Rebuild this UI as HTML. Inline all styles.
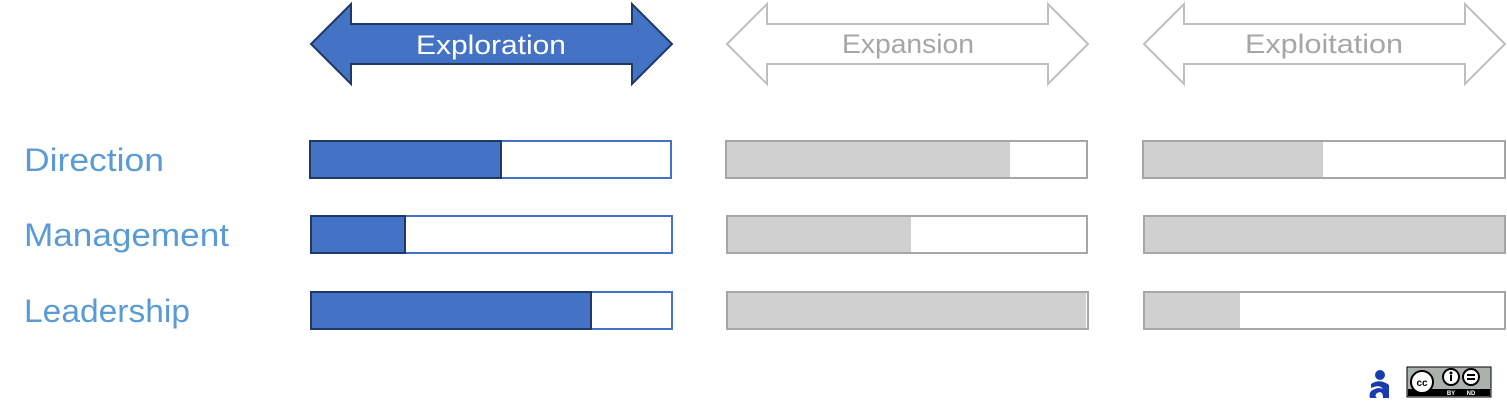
<!DOCTYPE html>
<html><head><style>
body{margin:0;width:1507px;height:414px;background:#fff;overflow:hidden;font-family:"Liberation Sans",sans-serif}
</style></head><body>
<svg width="1507" height="414" xmlns="http://www.w3.org/2000/svg" style="position:absolute;left:0;top:0">
<g font-family="Liberation Sans, sans-serif">
<polygon points="311,44 351,4 351,24 632,24 632,4 672,44 632,84 632,64 351,64 351,84" fill="#4472c4" stroke="#1f3864" stroke-width="2"/>
<text x="416" y="54" font-size="27" fill="#fff" textLength="150" lengthAdjust="spacingAndGlyphs">Exploration</text>
<polygon points="727,44 767,4 767,24 1048,24 1048,4 1088,44 1048,84 1048,64 767,64 767,84" fill="#fff" stroke="#bfbfbf" stroke-width="2"/>
<text x="842" y="53" font-size="27" fill="#a6a6a6" textLength="132" lengthAdjust="spacingAndGlyphs">Expansion</text>
<polygon points="1144,44 1184,4 1184,24 1465,24 1465,4 1505,44 1465,84 1465,64 1184,64 1184,84" fill="#fff" stroke="#bfbfbf" stroke-width="2"/>
<text x="1245" y="53" font-size="27" fill="#a6a6a6" textLength="158" lengthAdjust="spacingAndGlyphs">Exploitation</text>

<g font-size="32" fill="#5b9bd5">
<text x="24" y="171" textLength="140" lengthAdjust="spacingAndGlyphs">Direction</text>
<text x="24" y="246" textLength="205" lengthAdjust="spacingAndGlyphs">Management</text>
<text x="24" y="322" textLength="166" lengthAdjust="spacingAndGlyphs">Leadership</text>
</g>

<rect x="310" y="141" width="361" height="37" fill="#fff" stroke="#4472c4" stroke-width="2"/>
<rect x="310" y="141" width="191" height="37" fill="#4472c4" stroke="#1f3864" stroke-width="2"/>
<rect x="311" y="216" width="361" height="37" fill="#fff" stroke="#4472c4" stroke-width="2"/>
<rect x="311" y="216" width="94" height="37" fill="#4472c4" stroke="#1f3864" stroke-width="2"/>
<rect x="311" y="292" width="361" height="37" fill="#fff" stroke="#4472c4" stroke-width="2"/>
<rect x="311" y="292" width="280" height="37" fill="#4472c4" stroke="#1f3864" stroke-width="2"/>

<rect x="726" y="141" width="361" height="37" fill="#fff" stroke="#a6a6a6" stroke-width="2"/>
<rect x="727" y="142" width="283" height="35" fill="#d0d0d0"/>
<rect x="727" y="216" width="360" height="37" fill="#fff" stroke="#a6a6a6" stroke-width="2"/>
<rect x="728" y="217" width="183" height="35" fill="#d0d0d0"/>
<rect x="727" y="292" width="361" height="37" fill="#fff" stroke="#a6a6a6" stroke-width="2"/>
<rect x="728" y="293" width="358" height="35" fill="#d0d0d0"/>

<rect x="1143" y="141" width="362" height="37" fill="#fff" stroke="#a6a6a6" stroke-width="2"/>
<rect x="1144" y="142" width="179" height="35" fill="#d0d0d0"/>
<rect x="1144" y="216" width="361" height="37" fill="#d0d0d0" stroke="#a6a6a6" stroke-width="2"/>
<rect x="1144" y="292" width="361" height="37" fill="#fff" stroke="#a6a6a6" stroke-width="2"/>
<rect x="1145" y="293" width="95" height="35" fill="#d0d0d0"/>

<circle cx="1380" cy="375" r="5" fill="#1a3bb0"/>
<path d="M1371,384 Q1380,378 1389,385 L1389,398 L1383,398 Q1383,390 1377,393 Q1374,396 1377,398 L1370,398 Q1368,391 1375,389 Q1379,387 1383,389 Q1380,384 1371,388 Z" fill="#1a3bb0"/>
<rect x="1407" y="367" width="84" height="30" fill="#aab2ab" stroke="#000" stroke-width="1"/>
<rect x="1408" y="389" width="82" height="7" fill="#000"/>
<circle cx="1422" cy="382" r="11" fill="#fff" stroke="#000" stroke-width="2"/>
<text x="1422" y="386" font-size="10" font-weight="bold" text-anchor="middle">cc</text>
<circle cx="1451" cy="377" r="8" fill="#fff" stroke="#000" stroke-width="2"/>
<circle cx="1451" cy="373" r="1.5" fill="#000"/>
<rect x="1450" y="375" width="2" height="6" fill="#000"/>
<circle cx="1471" cy="377" r="8" fill="#fff" stroke="#000" stroke-width="2"/>
<rect x="1467" y="374" width="8" height="2" fill="#000"/>
<rect x="1467" y="378" width="8" height="2" fill="#000"/>
<text x="1451" y="395" font-size="6" fill="#fff" font-weight="bold" text-anchor="middle">BY</text>
<text x="1471" y="395" font-size="6" fill="#fff" font-weight="bold" text-anchor="middle">ND</text>
</g>
</svg>
</body></html>
